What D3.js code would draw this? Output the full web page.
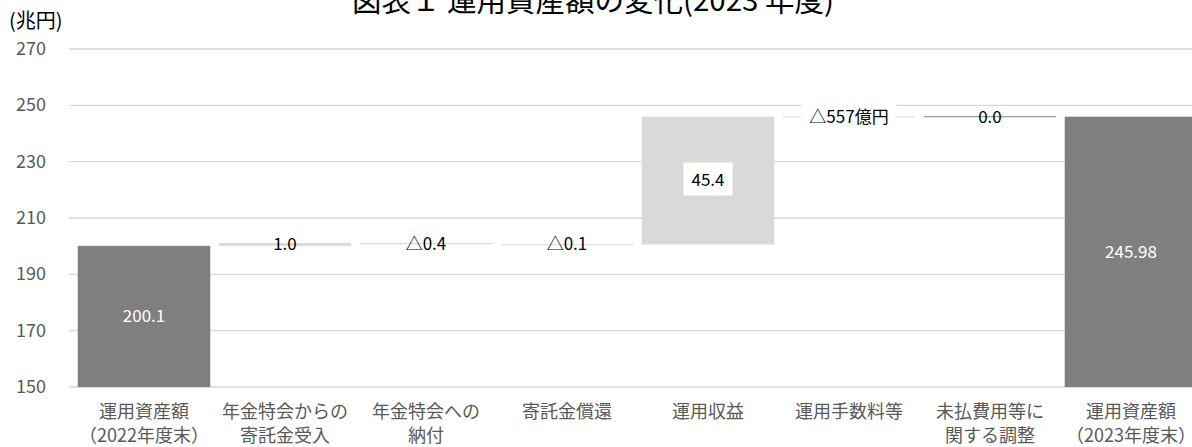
<!DOCTYPE html>
<html><head><meta charset="utf-8">
<script src="https://cdn.jsdelivr.net/npm/d3@7"></script>
<style>
body{margin:0;background:#fff;}
svg{display:block;font-family:"Noto Sans CJK JP","Noto Sans",sans-serif;}
</style></head>
<body><svg id="c" width="1192" height="447"></svg>
<script>
const categories = [["運用資産額","（2022年度末）"],["年金特会からの","寄託金受入"],["年金特会への","納付"],["寄託金償還"],["運用収益"],["運用手数料等"],["未払費用等に","関する調整"],["運用資産額","（2023年度末）"]];
const values = [200.1, 1.0, -0.4, -0.1, 45.4, -0.0557, 0.0, 245.98];
const kinds = ["total","delta","delta","delta","delta","delta","delta","total"];
const labels = ["200.1","1.0","△0.4","△0.1","45.4","△557億円","0.0","245.98"];
const yTicks = [150,170,190,210,230,250,270];
const title = "図表１ 運用資産額の変化(2023 年度)";
const unit = "(兆円)";

const svg = d3.select("#c");
const x = d3.scaleBand().domain(d3.range(categories.length)).range([73.5,1201.5]).paddingInner(0.06).paddingOuter(0.03);
const y = d3.scaleLinear().domain([150,270]).range([387,49]);

// compute waterfall
let run = 0;
const bars = values.map((v,i)=>{
  let y0,y1;
  if(kinds[i]==="total"){ y0=150; y1=v; run=v; }
  else { y0=run; y1=run+v; run=y1; }
  return {i,v,lo:Math.min(y0,y1),hi:Math.max(y0,y1),kind:kinds[i],label:labels[i]};
});

// title
svg.append("text").attr("x",593).attr("y",11).attr("text-anchor","middle")
  .attr("font-size",29.5).attr("fill","#000").text(title);
svg.append("text").attr("x",9).attr("y",28).attr("font-size",20).attr("fill","#000").text(unit);

// grid
svg.append("g").selectAll("line").data(yTicks).join("line")
  .attr("x1",69).attr("x2",1192).attr("y1",d=>y(d)).attr("y2",d=>y(d))
  .attr("stroke","#d9d9d9").attr("stroke-width",1.3);
svg.append("g").selectAll("text").data(yTicks).join("text")
  .attr("x",46).attr("y",d=>y(d)+6).attr("text-anchor","end").attr("font-size",18)
  .attr("fill","#595959").text(d=>d);

// bars
const g = svg.append("g");
bars.forEach(b=>{
  const x0 = x(b.i), w = x.bandwidth();
  if(b.hi-b.lo===0){
    g.append("line").attr("x1",x0).attr("x2",x0+w).attr("y1",y(b.hi)).attr("y2",y(b.hi))
      .attr("stroke","#7f7f7f").attr("stroke-width",1);
  } else {
    const h = Math.max(y(b.lo)-y(b.hi),1);
    g.append("rect").attr("x",x0).attr("width",w).attr("y",y(b.hi)).attr("height",h)
      .attr("fill",b.kind==="total"?"#7f7f7f":"#d9d9d9");
  }
});

// labels
bars.forEach(b=>{
  const cx = x(b.i)+x.bandwidth()/2;
  const cy = y((b.lo+b.hi)/2);
  const t = g.append("text").attr("x",cx).attr("y",cy).attr("dy","0.35em").attr("text-anchor","middle")
    .attr("font-size",17).attr("fill",b.kind==="total"?"#fff":"#000").text(b.label);
  if(b.i===4 || b.i===5){
    const bb = t.node().getBBox();
    g.insert("rect","text").attr("x",bb.x-8).attr("y",bb.y-4).attr("width",bb.width+16).attr("height",bb.height+8).attr("fill","#fff");
    t.raise();
  }
});
// x labels
const xl = svg.append("g");
categories.forEach((c,i)=>{
  const cx = x(i)+x.bandwidth()/2;
  c.forEach((s,j)=>{
    xl.append("text").attr("x",cx).attr("y",418+j*24).attr("text-anchor","middle")
      .attr("font-size",18).attr("fill","#595959").text(s);
  });
});
</script></body></html>
